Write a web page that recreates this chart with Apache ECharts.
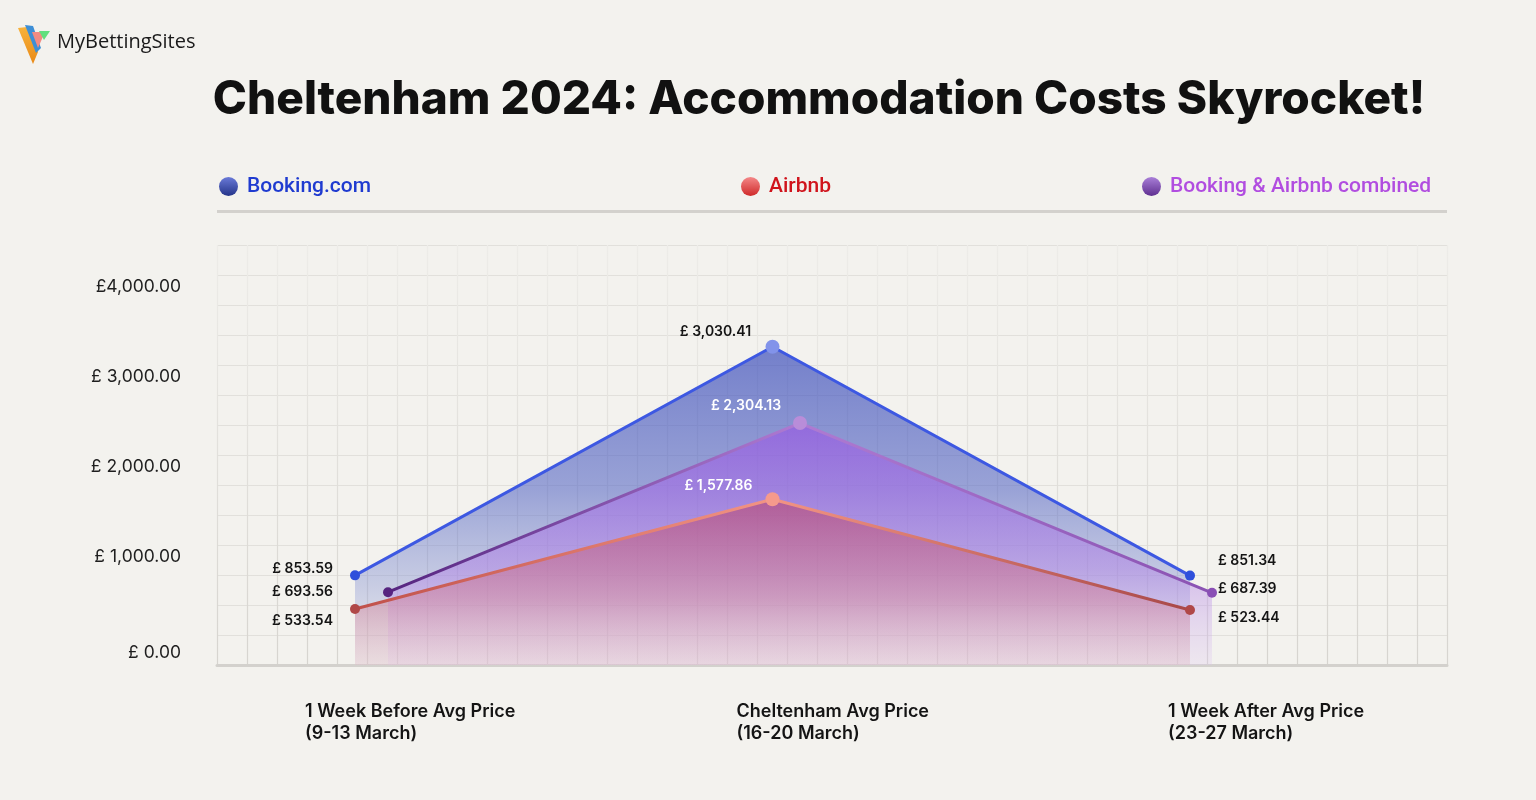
<!DOCTYPE html>
<html>
<head>
<meta charset="utf-8">
<style>
  html, body { margin: 0; padding: 0; background: #f3f2ee; }
  #chart { width: 1536px; height: 800px; }
</style>
<script src="https://cdn.jsdelivr.net/npm/echarts@6/dist/echarts.min.js"></script>
</head>
<body>
<div id="chart"></div>
<script>
// ---------- DATA ----------
const categories = ['1 Week Before Avg Price\n(9-13 March)', 'Cheltenham Avg Price\n(16-20 March)', '1 Week After Avg Price\n(23-27 March)'];
const bookingValues = [853.59, 3030.41, 851.34];
const airbnbValues = [533.54, 1577.86, 523.44];
const combinedValues = [693.56, 2304.13, 687.39];
const yTickValues = [0, 1000, 2000, 3000, 4000];
const yTickLabels = ['£ 0.00', '£ 1,000.00', '£ 2,000.00', '£ 3,000.00', '£4,000.00'];
const seriesNames = ['Booking.com', 'Airbnb', 'Booking & Airbnb combined'];
const title = 'Cheltenham 2024: Accommodation Costs Skyrocket!';
const brand = 'MyBettingSites';

// ---------- RENDER ----------
const chart = echarts.init(document.getElementById('chart'), null, { renderer: 'canvas' });
const G = echarts.graphic;
const fmt = v => '£ ' + v.toLocaleString('en-GB', { minimumFractionDigits: 2, maximumFractionDigits: 2 });

const labelFont = { fontFamily: 'Inter', fontWeight: 600, fontSize: 14, color: '#141414' };

function buildData(values, cfg) {
  return values.map((v, i) => {
    const c = cfg[i];
    return {
      value: v,
      symbolSize: c.size,
      itemStyle: { color: c.color },
      label: Object.assign({ show: true, formatter: fmt(v) }, labelFont, c.label)
    };
  });
}

const bookingData = buildData(bookingValues, [
  { size: 10, color: '#2f4fdb', label: { position: 'left', distance: 17, offset: [0, -7] } },
  { size: 14, color: '#8293ea', label: { position: 'inside', offset: [-57, -15] } },
  { size: 10, color: '#2f4fdb', label: { position: 'right', distance: 23, offset: [0, -15] } }
]);
const combinedData = buildData(combinedValues, [
  { size: 10, color: '#56247f', label: { position: 'left', distance: 50 } },
  { size: 14, color: '#b98dd9', label: { position: 'inside', offset: [-54, -17], color: '#ffffff' } },
  { size: 10, color: '#8a4fb5', label: { position: 'right', distance: 1, offset: [0, -4] } }
]);
const airbnbData = buildData(airbnbValues, [
  { size: 10, color: '#b04848', label: { position: 'left', distance: 17, offset: [0, 12] } },
  { size: 14, color: '#f59a8c', label: { position: 'inside', offset: [-54, -14], color: '#ffffff' } },
  { size: 10, color: '#b04848', label: { position: 'right', distance: 23, offset: [0, 8] } }
]);

const plotTop = 245, plotBottom = 135;
const gridFade = new G.LinearGradient(0, 0, 0, 1, [
  { offset: 0, color: '#edece8' }, { offset: 1, color: '#d6d4cf' }
]);

function legendIcon(top, bottom) {
  return new G.LinearGradient(0, 0, 0, 1, [{ offset: 0, color: top }, { offset: 1, color: bottom }]);
}
function legend(name, left, color, top, bottom, spacing) {
  return {
    data: [{ name: name, icon: 'circle', itemStyle: { color: legendIcon(top, bottom) } }],
    left: left, top: 176, padding: 0, itemWidth: 19, itemHeight: 19, selectedMode: false,
    textStyle: { color: color, fontFamily: 'Roboto', fontWeight: 500, fontSize: 21, padding: [0, 0, 0, 4] }
  };
}

const option = {
  backgroundColor: '#f3f2ee',
  animation: false,
  legend: [
    legend(seriesNames[0], 219, '#1f3bd0', '#6a7ad8', '#243489'),
    legend(seriesNames[1], 741, '#d0141c', '#f48888', '#cf2a2a'),
    legend(seriesNames[2], 1142, '#b14de0', '#a97fd8', '#5f2f90')
  ],
  grid: [
    { left: 217, right: 89, top: plotTop, bottom: plotBottom },   // background grid
    { left: 355, right: 346, top: plotTop, bottom: plotBottom },  // booking & airbnb
    { left: 388, right: 324, top: plotTop, bottom: plotBottom },  // combined
    { left: 190, right: 89, top: 287, bottom: 153 },              // y labels
    { left: 305, right: 368, top: plotTop, bottom: plotBottom }   // x labels
  ],
  xAxis: [
    { gridIndex: 0, type: 'value', min: 0, max: 41, interval: 1,
      axisLabel: { show: false }, axisTick: { show: false },
      axisLine: { show: true, onZero: false, lineStyle: { color: '#d3d1cd', width: 3 } },
      splitLine: { show: true, lineStyle: { color: gridFade, width: 1.2 } } },
    { gridIndex: 1, type: 'category', data: categories, boundaryGap: false, show: false },
    { gridIndex: 2, type: 'category', data: categories, boundaryGap: false, show: false },
    { gridIndex: 3, type: 'value', show: false },
    { gridIndex: 4, type: 'category', data: categories, boundaryGap: false,
      axisLine: { show: false }, axisTick: { show: false }, splitLine: { show: false },
      axisLabel: { show: true, align: 'left', margin: 36, interval: 0,
        fontFamily: 'Inter', fontWeight: 600, fontSize: 18, lineHeight: 22, color: '#141414' } }
  ],
  yAxis: [
    { gridIndex: 0, type: 'value', min: 0, max: 14, interval: 1,
      axisLabel: { show: false }, axisTick: { show: false }, axisLine: { show: false },
      splitLine: { show: true, lineStyle: { color: gridFade, width: 1.2 } } },
    { gridIndex: 1, type: 'value', min: 0, max: 4000, show: false, splitLine: { show: false } },
    { gridIndex: 2, type: 'value', min: 0, max: 4000, show: false, splitLine: { show: false } },
    { gridIndex: 3, type: 'value', min: 0, max: 4000, interval: 1000,
      axisLine: { show: false }, axisTick: { show: false }, splitLine: { show: false },
      axisLabel: { margin: 9, fontFamily: 'Inter', fontSize: 17.5, color: '#1e1e1e',
        formatter: v => v === 0 ? '{z|' + yTickLabels[0] + '}' : yTickLabels[yTickValues.indexOf(v)],
        rich: { z: { fontFamily: 'Inter', fontSize: 17.5, color: '#1e1e1e', padding: [12, 0, 0, 0] } } } },
    { gridIndex: 4, type: 'value', show: false, splitLine: { show: false } }
  ],
  series: [
    { name: seriesNames[0], type: 'line', xAxisIndex: 1, yAxisIndex: 1, z: 2,
      data: bookingData, symbol: 'circle',
      itemStyle: { color: '#3a55e0' },
      lineStyle: { color: '#3d58e2', width: 3 },
      areaStyle: { origin: 'start', color: new G.LinearGradient(0, 0, 0, 1, [
        { offset: 0, color: 'rgba(56,74,186,0.98)' },
        { offset: 0.45, color: 'rgba(92,108,198,0.85)' },
        { offset: 0.75, color: 'rgba(140,152,212,0.6)' },
        { offset: 1, color: 'rgba(190,195,230,0.3)' }]) } },
    { name: seriesNames[2], type: 'line', xAxisIndex: 2, yAxisIndex: 2, z: 3,
      data: combinedData, symbol: 'circle',
      itemStyle: { color: '#8a4fb5' },
      lineStyle: { width: 3, color: new G.LinearGradient(0, 0, 1, 0, [
        { offset: 0, color: '#55247f' }, { offset: 0.5, color: '#ae7bd2' }, { offset: 1, color: '#8a52b2' }]) },
      areaStyle: { origin: 'start', color: new G.LinearGradient(0, 0, 0, 1, [
        { offset: 0, color: 'rgba(152,88,226,0.97)' },
        { offset: 0.6, color: 'rgba(176,128,230,0.7)' },
        { offset: 1, color: 'rgba(220,195,240,0.35)' }]) } },
    { name: seriesNames[1], type: 'line', xAxisIndex: 1, yAxisIndex: 1, z: 4,
      data: airbnbData, symbol: 'circle',
      itemStyle: { color: '#d04848' },
      lineStyle: { width: 3, color: new G.LinearGradient(0, 0, 1, 0, [
        { offset: 0, color: '#c0504a' }, { offset: 0.5, color: '#f29484' }, { offset: 1, color: '#a84848' }]) },
      areaStyle: { origin: 'start', color: new G.LinearGradient(0, 0, 0, 1, [
        { offset: 0, color: 'rgba(185,70,112,0.9)' },
        { offset: 0.6, color: 'rgba(210,120,145,0.65)' },
        { offset: 1, color: 'rgba(240,190,190,0.4)' }]) } },
    { type: 'line', xAxisIndex: 3, yAxisIndex: 3, data: [], silent: true },
    { type: 'line', xAxisIndex: 4, yAxisIndex: 4, data: [], silent: true },
    { type: 'line', xAxisIndex: 0, yAxisIndex: 0, data: [], silent: true }
  ],
  graphic: [
    // legend underline
    { type: 'rect', left: 217, top: 210, shape: { width: 1230, height: 3 }, style: { fill: '#d3d1cd' }, silent: true },
    // title
    { type: 'text', x: 819, y: 100, style: { text: title, textAlign: 'center', textVerticalAlign: 'middle',
      font: '800 46px Inter', fill: '#111111' }, silent: true },
    // brand logo
    { type: 'polygon', silent: true, shape: { points: [[18, 28], [27, 27], [38, 52], [33, 64]] },
      style: { fill: new G.LinearGradient(0, 0, 0, 1, [{ offset: 0, color: '#f7b23b' }, { offset: 1, color: '#e98a17' }]) } },
    { type: 'polygon', silent: true, shape: { points: [[25, 25], [33, 26], [41, 48], [36, 53]] }, style: { fill: '#3d8fd6' } },
    { type: 'polygon', silent: true, shape: { points: [[32, 32], [45, 32], [38, 48]] }, style: { fill: '#f28b82' } },
    { type: 'polygon', silent: true, shape: { points: [[39, 31], [50, 31], [44, 40]] }, style: { fill: '#62e07e' } },
    { type: 'text', silent: true, x: 57, y: 42, style: { text: brand, textVerticalAlign: 'middle',
      font: '500 20px "Open Sans"', fill: '#1a1a1a' } }
  ]
};
chart.setOption(option);
</script>
</body>
</html>
